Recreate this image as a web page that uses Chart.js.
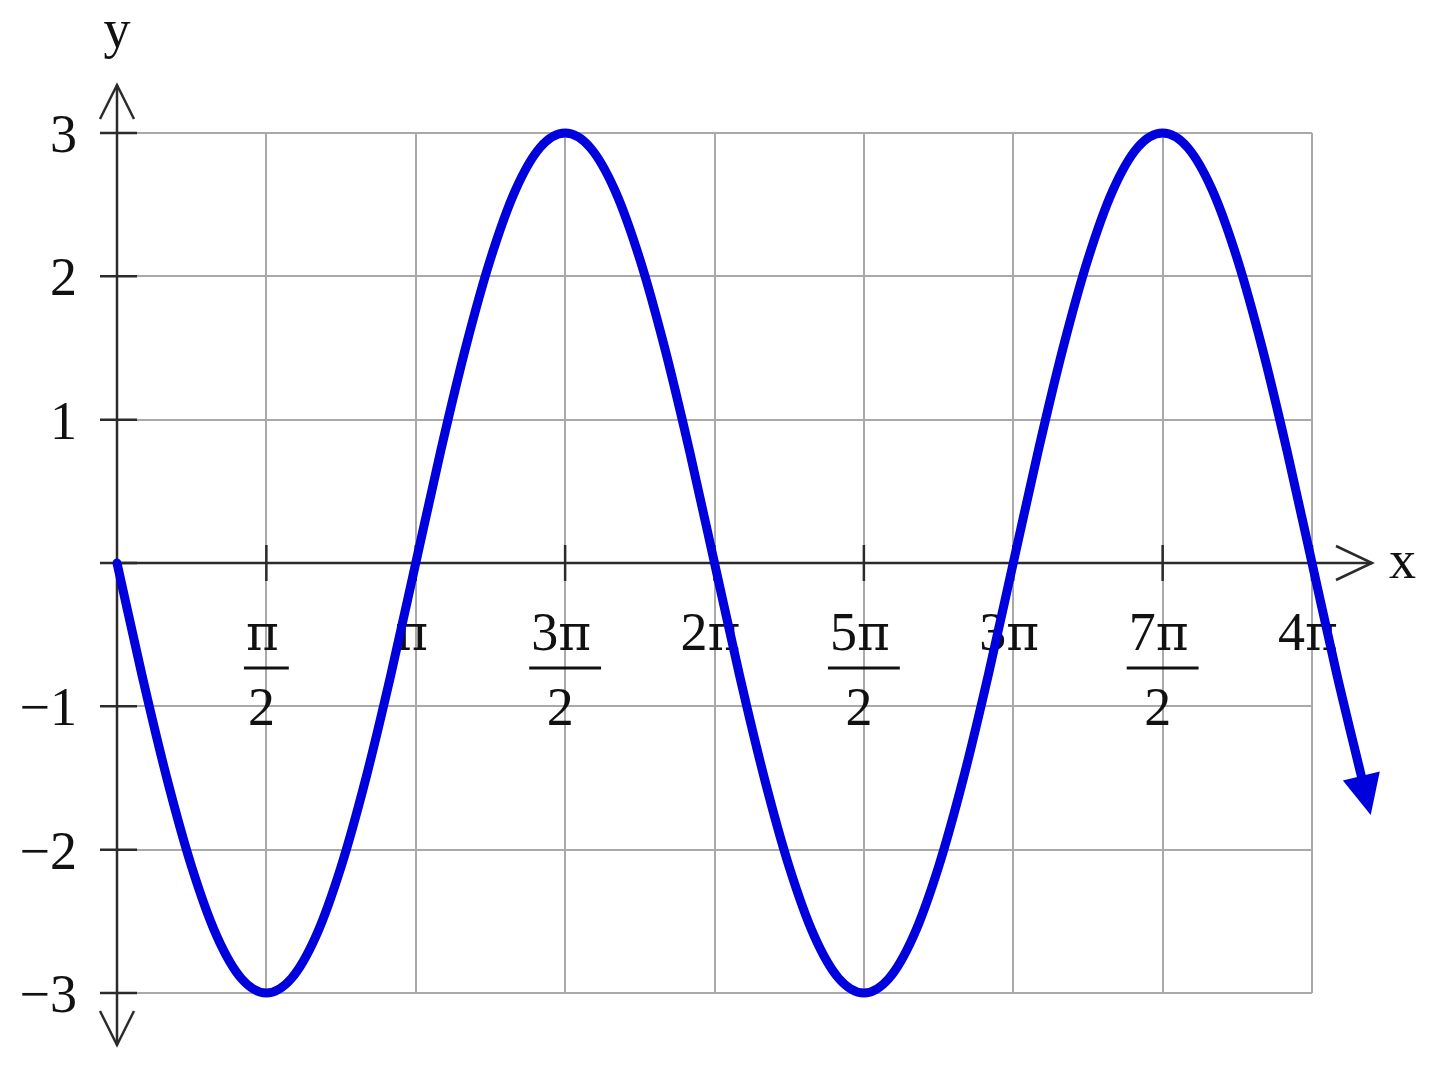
<!DOCTYPE html>
<html><head><meta charset="utf-8">
<script src="https://cdn.jsdelivr.net/npm/chart.js@4.4.1/dist/chart.umd.min.js"></script>
<style>html,body{margin:0;padding:0;background:#fff;overflow:hidden}#wrap{width:1440px;height:1071px}</style>
</head><body><div id="wrap"><canvas id="c" width="1440" height="1071"></canvas></div>
<script>
const xTwelfthsOfPi = [0,1,2,3,4,5,6,7,8,9,10,11,12,13,14,15,16,17,18,19,20,21,22,23,24,
  25,26,27,28,29,30,31,32,33,34,35,36,37,38,39,40,41,42,43,44,45,46,47,48,49,50];
const yValues = [0,-0.78,-1.5,-2.12,-2.6,-2.9,-3,-2.9,-2.6,-2.12,-1.5,-0.78,
  0,0.78,1.5,2.12,2.6,2.9,3,2.9,2.6,2.12,1.5,0.78,
  0,-0.78,-1.5,-2.12,-2.6,-2.9,-3,-2.9,-2.6,-2.12,-1.5,-0.78,
  0,0.78,1.5,2.12,2.6,2.9,3,2.9,2.6,2.12,1.5,0.78,
  0,-0.78,-1.5];
// x ticks in units of π
const xTickValues = [0.5,1,1.5,2,2.5,3,3.5,4];
const xTickNumerators = ['π','π','3π','2π','5π','3π','7π','4π'];
const xTickDenominators = ['2','','2','','2','','2',''];
const yTickValues = [-3,-2,-1,0,1,2,3];
const yTickLabels = ['−3','−2','−1','','1','2','3'];
const xAxisLabel = 'x';
const yAxisLabel = 'y';

const FONT = '54px "Liberation Serif", "Times New Roman", serif';
const PI_FONT = '50px "DejaVu Serif", serif';
const AXIS = '#2b2b2b';

function seg(ctx,a,b,c,d){ctx.beginPath();ctx.moveTo(a,b);ctx.lineTo(c,d);ctx.stroke();}
function mixedWidth(ctx,text){
  let w=0; for(const ch of text){ctx.font = ch==='π'?PI_FONT:FONT; w+=ctx.measureText(ch).width;} return w;
}
function drawMixed(ctx,text,cx,base){
  const w = mixedWidth(ctx,text); let xx = cx - w/2;
  ctx.textAlign='left';
  for(const ch of text){ctx.font = ch==='π'?PI_FONT:FONT; ctx.fillText(ch,xx,base); xx+=ctx.measureText(ch).width;}
  return w;
}

const decor = {
  id:'decor',
  beforeDatasetsDraw(chart){
    const {ctx, scales:{x,y}} = chart;
    const x0 = x.getPixelForValue(0), y0 = y.getPixelForValue(0);
    const yTop = y.getPixelForValue(3) - 48, yBot = y.getPixelForValue(-3) + 52;
    const xEnd = x.getPixelForValue(4) + 60;
    ctx.save();
    ctx.strokeStyle = AXIS; ctx.lineWidth = 2.5; ctx.lineCap = 'butt'; ctx.lineJoin='miter';
    seg(ctx,x0,yTop,x0,yBot);
    seg(ctx,x0,y0,xEnd,y0);
    ctx.beginPath(); ctx.moveTo(x0-17,yTop+34); ctx.lineTo(x0,yTop); ctx.lineTo(x0+17,yTop+34); ctx.stroke();
    ctx.beginPath(); ctx.moveTo(x0-17,yBot-34); ctx.lineTo(x0,yBot); ctx.lineTo(x0+17,yBot-34); ctx.stroke();
    ctx.beginPath(); ctx.moveTo(xEnd-36,y0-17); ctx.lineTo(xEnd,y0); ctx.lineTo(xEnd-36,y0+17); ctx.stroke();
    yTickValues.forEach(v=>{const py=y.getPixelForValue(v); seg(ctx,x0-17,py,x0+20,py);});
    xTickValues.forEach(v=>{const px=x.getPixelForValue(v); seg(ctx,px,y0-18,px,y0+18);});
    ctx.fillStyle = '#111'; ctx.font = FONT; ctx.textBaseline = 'alphabetic';
    ctx.textAlign = 'right';
    yTickValues.forEach((v,i)=>{ if(yTickLabels[i]) ctx.fillText(yTickLabels[i], 77, y.getPixelForValue(v)+19); });
    xTickValues.forEach((v,i)=>{
      const px = x.getPixelForValue(v);
      const num = xTickNumerators[i], den = xTickDenominators[i];
      const w = drawMixed(ctx, num, px-4, y0+87) + 12;
      if (den){
        ctx.fillRect(px - w/2, y0+103.5, w, 3);
        ctx.font = FONT; ctx.textAlign='center';
        ctx.fillText(den, px-5, y0+162);
      }
    });
    ctx.font = FONT;
    ctx.textAlign = 'left';
    ctx.fillText(xAxisLabel, x.getPixelForValue(4)+77, y0+15);
    ctx.textAlign = 'center';
    ctx.fillText(yAxisLabel, x0, 47);
    ctx.restore();
  },
  afterDatasetsDraw(chart){
    const {ctx} = chart;
    const ds = chart.data.datasets[0];
    const pts = chart.getDatasetMeta(0).data;
    const p = pts[pts.length-1], q = pts[pts.length-2];
    let dx = p.x - (isFinite(p.cp1x) ? p.cp1x : q.x), dy = p.y - (isFinite(p.cp1y) ? p.cp1y : q.y);
    const L = Math.hypot(dx,dy) || 1; dx/=L; dy/=L;
    const bx = p.x - dx*2, by = p.y - dy*2;
    ctx.save();
    ctx.fillStyle = ds.borderColor;
    ctx.beginPath();
    ctx.moveTo(bx + dx*40, by + dy*40);
    ctx.lineTo(bx - dy*19, by + dx*19);
    ctx.lineTo(bx + dy*19, by - dx*19);
    ctx.closePath(); ctx.fill();
    ctx.restore();
  }
};

const gridOpts = {color:'#a9a9a9', lineWidth:2, drawTicks:false};
new Chart(document.getElementById('c'), {
  type:'line',
  data:{datasets:[{
    data: xTwelfthsOfPi.map((k,i)=>({x:k/12, y:yValues[i]})),
    borderColor:'#0000dc', borderWidth:9, pointRadius:0,
    cubicInterpolationMode:'monotone', capBezierPoints:false,
    clip:false, fill:false, borderCapStyle:'round', borderJoinStyle:'round'
  }]},
  options:{
    responsive:false, animation:false, events:[],
    layout:{padding:{left:117,right:128,top:133,bottom:78}},
    plugins:{legend:{display:false}, tooltip:{enabled:false}},
    scales:{
      x:{type:'linear', bounds:'data',
        afterDataLimits:s=>{s.min=0;s.max=4;},
        afterBuildTicks:s=>{s.ticks=[0].concat(xTickValues).map(v=>({value:v}));},
        ticks:{display:false}, grid:gridOpts, border:{display:false}},
      y:{type:'linear', bounds:'data',
        afterDataLimits:s=>{s.min=-3;s.max=3;},
        afterBuildTicks:s=>{s.ticks=yTickValues.map(v=>({value:v}));},
        ticks:{display:false}, grid:gridOpts, border:{display:false}}
    }
  },
  plugins:[decor]
});
</script></body></html>
